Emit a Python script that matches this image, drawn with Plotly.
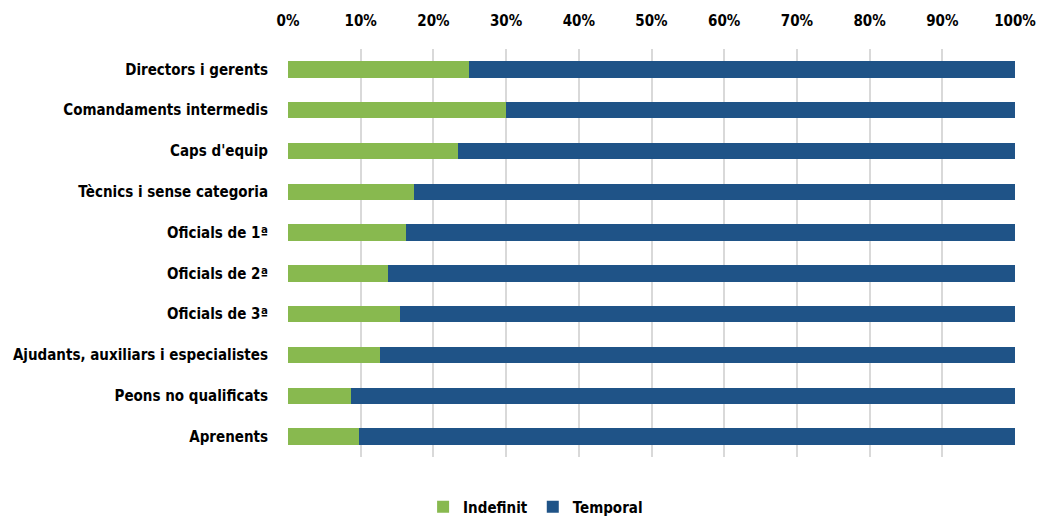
import plotly.graph_objects as go

categories = [
    "Directors i gerents",
    "Comandaments intermedis",
    "Caps d'equip",
    "Tècnics i sense categoria",
    "Oficials de 1ª",
    "Oficials de 2ª",
    "Oficials de 3ª",
    "Ajudants, auxiliars i especialistes",
    "Peons no qualificats",
    "Aprenents",
]
indefinit = [24.9, 30.0, 23.4, 17.3, 16.2, 13.8, 15.4, 12.7, 8.7, 9.8]
temporal = [100 - v for v in indefinit]

tick_vals = [0, 10, 20, 30, 40, 50, 60, 70, 80, 90, 100]
tick_text = [f"{v}%" for v in tick_vals]

FONT = "DejaVu Sans Condensed, Roboto, sans-serif"
GREEN = "#88b94f"
BLUE = "#1f5387"
TXT = dict(family=FONT, size=15, color="#000000", weight="bold")

fig = go.Figure()
fig.add_trace(go.Bar(
    y=categories, x=indefinit, name="Indefinit", orientation="h",
    marker=dict(color=GREEN, line=dict(width=0)),
))
fig.add_trace(go.Bar(
    y=categories, x=temporal, name="Temporal", orientation="h",
    marker=dict(color=BLUE, line=dict(width=0)),
))

fig.update_layout(
    width=1040, height=518,
    barmode="stack", bargap=0.6,
    plot_bgcolor="white", paper_bgcolor="white",
    margin=dict(l=288, r=25, t=49, b=61, autoexpand=False),
    font=TXT,
    legend=dict(
        orientation="h", xref="container", yref="container",
        x=0.515, y=0.021, xanchor="center", yanchor="middle",
        font=TXT, traceorder="normal", itemwidth=30,
    ),
    xaxis=dict(
        side="top", range=[0, 100], tickvals=tick_vals, ticktext=tick_text,
        showgrid=True, gridcolor="#d9d9d9", gridwidth=1.5,
        zeroline=False, showline=False, ticks="", ticklen=0,
        ticklabelstandoff=19, tickfont=TXT,
        automargin=False, fixedrange=True,
    ),
    yaxis=dict(
        autorange="reversed", showgrid=False, zeroline=False,
        ticks="", ticklabelstandoff=19, tickfont=TXT,
        automargin=False, fixedrange=True,
    ),
    showlegend=True,
)

fig.write_html("out.html")
